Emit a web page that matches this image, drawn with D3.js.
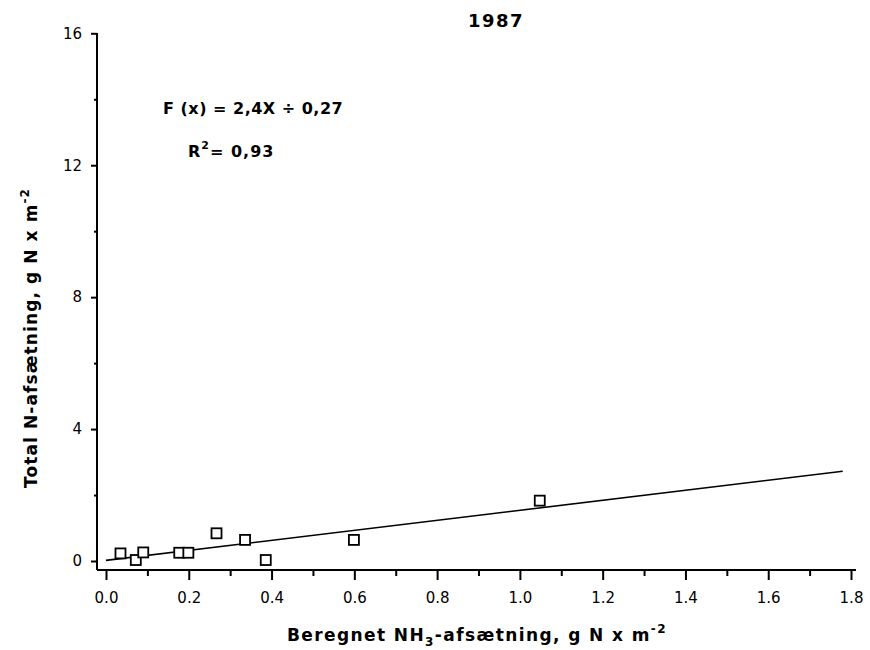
<!DOCTYPE html>
<html>
<head>
<meta charset="utf-8">
<script src="https://cdn.jsdelivr.net/npm/d3@7"></script>
<style>
  html, body { margin: 0; padding: 0; background: #fff; }
  svg { display: block; }
  text { font-family: "DejaVu Sans", sans-serif; fill: #000; }
</style>
</head>
<body>
<svg id="chart" width="870" height="650"></svg>
<script>
// Measured NH3 deposition (x) versus total N deposition (y), 1987
const nh3Deposition = [0.035, 0.072, 0.09, 0.177, 0.199, 0.267, 0.336, 0.386, 0.599, 1.048];
const totalDeposition = [0.23, 0.03, 0.26, 0.25, 0.25, 0.84, 0.64, 0.03, 0.64, 1.83];

// Regression line end points
const fitX = [0, 1.78];
const fitY = [0.02, 2.72];

const xMajorTicks = [0, 0.2, 0.4, 0.6, 0.8, 1.0, 1.2, 1.4, 1.6, 1.8];
const xMinorTicks = [0.1, 0.3, 0.5, 0.7, 0.9, 1.1, 1.3, 1.5, 1.7];
const yMajorTicks = [0, 4, 8, 12, 16];
const yMinorTicks = [2, 6, 10, 14];

const titleText = "1987";
const equationText = "F (x) = 2,4X \u00F7 0,27";

const svg = d3.select("#chart");

const x = d3.scaleLinear().domain([0, 1.8]).range([106, 851]);
const y = d3.scaleLinear().domain([0, 16]).range([561, 33.3]);

const axisX = 97, axisY = 570;

// Axis frame lines
svg.append("line")
  .attr("x1", axisX).attr("x2", axisX).attr("y1", 33).attr("y2", axisY)
  .attr("stroke", "#000").attr("stroke-width", 2);
svg.append("line")
  .attr("x1", axisX).attr("x2", 856).attr("y1", axisY).attr("y2", axisY)
  .attr("stroke", "#000").attr("stroke-width", 2);

// X axis ticks and labels
const gx = svg.append("g").attr("transform", `translate(0,${axisY})`);
gx.call(d3.axisBottom(x).tickValues(xMajorTicks).tickSize(10).tickPadding(12)
  .tickFormat(d3.format(".1f")));
gx.select(".domain").remove();
gx.selectAll(".tick line").attr("stroke-width", 2);
gx.selectAll(".tick text").style("font-size", "15px").style("font-family", "DejaVu Sans, sans-serif");
const gxm = svg.append("g").attr("transform", `translate(0,${axisY})`);
gxm.call(d3.axisBottom(x).tickValues(xMinorTicks).tickSize(6).tickFormat(""));
gxm.select(".domain").remove();
gxm.selectAll(".tick line").attr("stroke-width", 2);

// Y axis ticks and labels
const gy = svg.append("g").attr("transform", `translate(${axisX},0)`);
gy.call(d3.axisLeft(y).tickValues(yMajorTicks).tickSize(6).tickPadding(9).tickFormat(d3.format("d")));
gy.select(".domain").remove();
gy.selectAll(".tick line").attr("stroke-width", 2);
gy.selectAll(".tick text").style("font-size", "15px").style("font-family", "DejaVu Sans, sans-serif");
const gym = svg.append("g").attr("transform", `translate(${axisX},0)`);
gym.call(d3.axisLeft(y).tickValues(yMinorTicks).tickSize(3).tickFormat(""));
gym.select(".domain").remove();
gym.selectAll(".tick line").attr("stroke-width", 2);

// Regression line
svg.append("path")
  .datum(d3.zip(fitX, fitY))
  .attr("fill", "none").attr("stroke", "#000").attr("stroke-width", 1.6)
  .attr("d", d3.line().x(d => x(d[0])).y(d => y(d[1])));

// Data points as open squares
const s = 10;
svg.append("g").selectAll("rect")
  .data(d3.zip(nh3Deposition, totalDeposition))
  .join("rect")
  .attr("x", d => x(d[0]) - s / 2)
  .attr("y", d => y(d[1]) - s / 2)
  .attr("width", s).attr("height", s)
  .attr("fill", "#fff").attr("stroke", "#000").attr("stroke-width", 1.8);

// Title
svg.append("text")
  .attr("x", 496).attr("y", 27).attr("text-anchor", "middle")
  .style("font-size", "18px").style("font-weight", "bold").attr("letter-spacing", "1.5")
  .text(titleText);

// Regression annotation
svg.append("text")
  .attr("x", 163).attr("y", 114)
  .style("font-size", "16px").style("font-weight", "bold").attr("letter-spacing", "0.5")
  .text(equationText);

const r2 = svg.append("text")
  .attr("x", 188).attr("y", 157)
  .style("font-size", "16px").style("font-weight", "bold").attr("letter-spacing", "1");
r2.append("tspan").text("R");
r2.append("tspan").attr("dy", -8).style("font-size", "11px").text("2");
r2.append("tspan").attr("dy", 8).text("= 0,93");

// X axis title
const xt = svg.append("text")
  .attr("x", 477).attr("y", 641).attr("text-anchor", "middle")
  .style("font-size", "17px").style("font-weight", "bold").attr("letter-spacing", "1.4");
xt.append("tspan").text("Beregnet NH");
xt.append("tspan").attr("dy", 5).style("font-size", "12px").text("3");
xt.append("tspan").attr("dy", -5).text("-afsætning, g N x m");
xt.append("tspan").attr("dy", -8).style("font-size", "12px").text("-2");

// Y axis title
const yt = svg.append("text")
  .attr("transform", "translate(37,338) rotate(-90)")
  .attr("text-anchor", "middle")
  .style("font-size", "17px").style("font-weight", "bold").attr("letter-spacing", "1.1");
yt.append("tspan").text("Total N-afsætning, g N x m");
yt.append("tspan").attr("dy", -8).style("font-size", "12px").text("-2");
</script>
</body>
</html>
